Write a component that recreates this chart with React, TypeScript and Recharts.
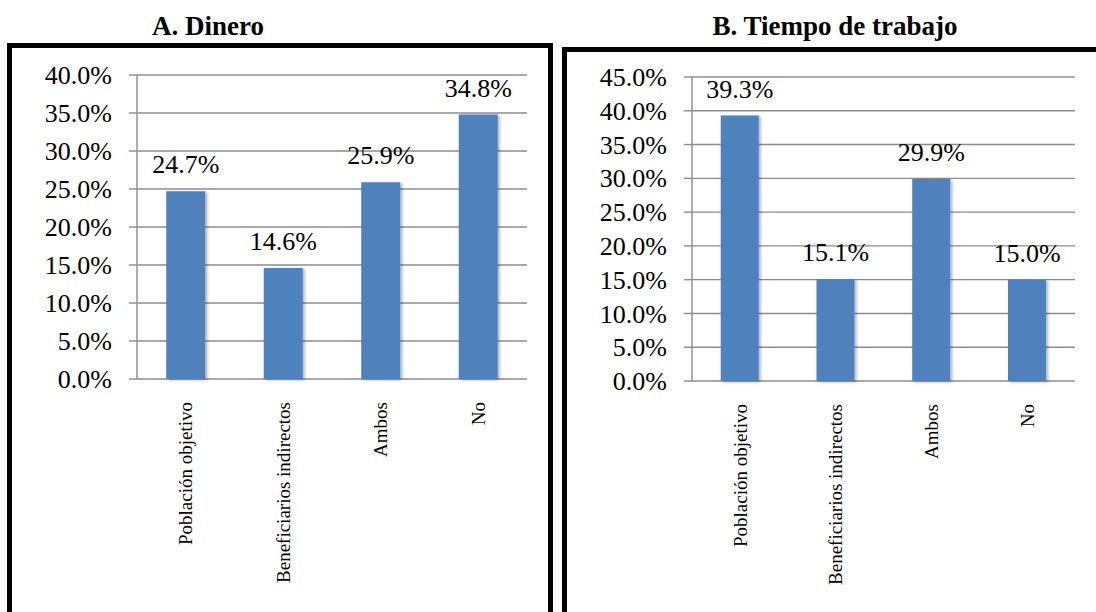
import React from 'react';
import { Bar, BarChart, CartesianGrid, LabelList, Rectangle, XAxis, YAxis } from 'recharts';

const categories = ['Población objetivo', 'Beneficiarios indirectos', 'Ambos', 'No'];
const dineroValues = [24.7, 14.6, 25.9, 34.8];
const tiempoValues = [39.3, 15.1, 29.9, 15.0];
const dineroTicks = [0, 5, 10, 15, 20, 25, 30, 35, 40];
const tiempoTicks = [0, 5, 10, 15, 20, 25, 30, 35, 40, 45];
const boundaryTicks = [0, 1, 2, 3, 4];

const SERIF = '"Liberation Serif", "DejaVu Serif", serif';
const GRID = '#8c8c8c';
const BAR = '#4F81BD';

const pct = (v: number) => `${v.toFixed(1)}%`;

function CategoryTick({ x, y, payload }: any) {
  return (
    <text
      transform={`translate(${x},${y + 15}) rotate(-90)`}
      textAnchor="end"
      dy="0.35em"
      style={{ fontFamily: SERIF, fontSize: 19 }}
      fill="#000"
    >
      {payload.value}
    </text>
  );
}

function ValueTick({ x, y, payload }: any) {
  return (
    <text x={x} y={y} textAnchor="end" dy="0.35em" style={{ fontFamily: SERIF, fontSize: 26 }} fill="#000">
      {pct(payload.value)}
    </text>
  );
}

function ShadowBar(props: any) {
  return <Rectangle {...props} filter="url(#barShadow)" />;
}

type PanelProps = {
  values: number[];
  ticks: number[];
  width: number;
  margin: { top: number; right: number; left: number; bottom: number };
};

function Panel({ values, ticks, width, margin }: PanelProps) {
  const data = categories.map((cat, i) => ({ cat, value: values[i] }));
  const max = ticks[ticks.length - 1];
  return (
    <BarChart width={width} height={612} data={data} margin={margin} barCategoryGap="30%">
      <defs>
        <filter id="barShadow" x="-20%" y="-5%" width="150%" height="115%">
          <feDropShadow dx="2" dy="1" stdDeviation="1.4" floodColor="#000" floodOpacity="0.3" />
        </filter>
      </defs>
      <CartesianGrid vertical={false} stroke={GRID} strokeWidth={1.4} />
      <XAxis
        xAxisId="edge"
        type="number"
        domain={[0, 4]}
        ticks={boundaryTicks}
        allowDataOverflow
        height={0}
        tickSize={6}
        tickFormatter={() => ''}
        stroke={GRID}
        strokeWidth={1.4}
        tickLine={{ stroke: GRID, strokeWidth: 1.4 }}
      />
      <XAxis
        xAxisId="cat"
        dataKey="cat"
        height={160}
        interval={0}
        axisLine={false}
        tickLine={false}
        tick={<CategoryTick />}
      />
      <YAxis
        width={80}
        domain={[0, max]}
        ticks={ticks}
        interval={0}
        tickSize={8}
        tickMargin={17}
        stroke={GRID}
        strokeWidth={1.4}
        tickLine={{ stroke: GRID, strokeWidth: 1.4 }}
        tick={<ValueTick />}
      />
      <Bar dataKey="value" xAxisId="cat" fill={BAR} shape={<ShadowBar />} isAnimationActive={false}>
        <LabelList
          dataKey="value"
          position="top"
          offset={18}
          formatter={(v: any) => pct(Number(v))}
          style={{ fill: '#000', fontFamily: SERIF, fontSize: 26 }}
        />
      </Bar>
    </BarChart>
  );
}

const titleStyle: React.CSSProperties = {
  position: 'absolute',
  top: 11,
  fontFamily: SERIF,
  fontWeight: 'bold',
  fontSize: 27,
  whiteSpace: 'nowrap',
  transform: 'translateX(-50%)',
  color: '#000',
};

export default function App() {
  return (
    <div style={{ position: 'absolute', left: 0, top: 0, width: 1096, height: 612, overflow: 'hidden', background: '#fff' }}>
      <div style={{ ...titleStyle, left: 208 }}>A. Dinero</div>
      <div style={{ ...titleStyle, left: 835 }}>B. Tiempo de trabajo</div>
      <div style={{ position: 'absolute', left: 7, top: 43, width: 546, height: 700, border: '5px solid #000', boxSizing: 'border-box' }} />
      <div style={{ position: 'absolute', left: 562, top: 47, width: 600, height: 700, border: '5px solid #000', boxSizing: 'border-box' }} />
      <div style={{ position: 'absolute', left: 0, top: 0 }}>
        <Panel values={dineroValues} ticks={dineroTicks} width={553} margin={{ top: 75, right: 26, left: 57, bottom: 73 }} />
      </div>
      <div style={{ position: 'absolute', left: 560, top: 0 }}>
        <Panel values={tiempoValues} ticks={tiempoTicks} width={536} margin={{ top: 77, right: 21, left: 52, bottom: 71 }} />
      </div>
    </div>
  );
}
